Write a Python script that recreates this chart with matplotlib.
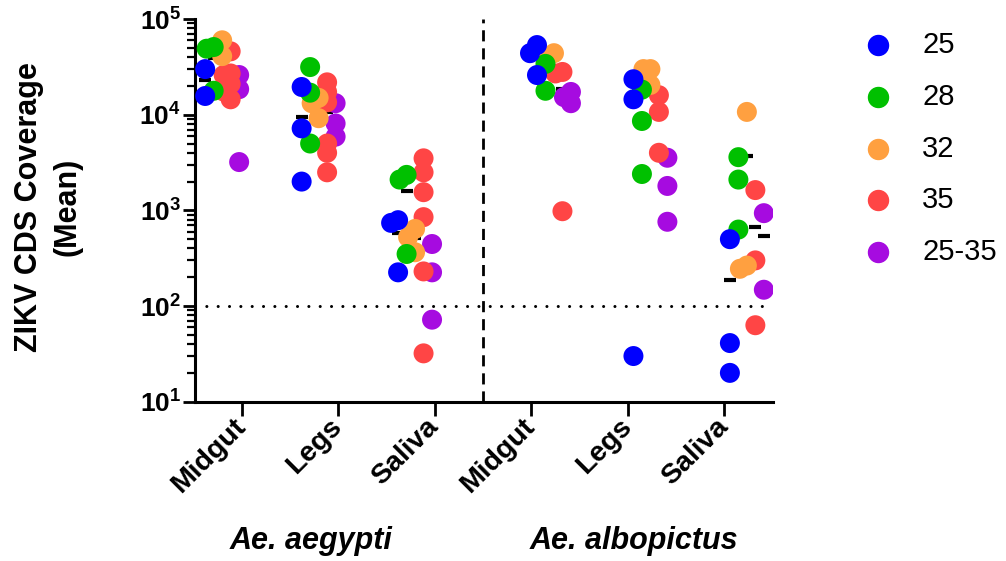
import numpy as np
import matplotlib
matplotlib.use("Agg")
import matplotlib.pyplot as plt
from matplotlib.lines import Line2D
from matplotlib.ticker import LogLocator, NullFormatter

plt.rcParams['font.family'] = ['Liberation Sans', 'DejaVu Sans']
plt.rcParams['mathtext.fontset'] = 'custom'
plt.rcParams['mathtext.rm'] = 'Liberation Sans'
plt.rcParams['mathtext.bf'] = 'Liberation Sans:bold'

temps = ['25', '28', '32', '35', '25-35']
colors = ['#0000FF', '#00C000', '#FFA040', '#FF4545', '#A60BE0']
tissues = ['Midgut', 'Legs', 'Saliva']
species = ['Ae. aegypti', 'Ae. albopictus']

# mean ZIKV CDS coverage per pool, by tissue and temperature
aeg_midgut = {'25': [30000, 15700],
              '28': [51000, 49000, 17800],
              '32': [60000, 41000],
              '35': [46000, 27000, 26000, 21000, 17500, 14500],
              '25-35': [26000, 18500, 3200]}
aeg_legs = {'25': [19500, 7200, 2000],
            '28': [31500, 17000, 5000],
            '32': [15000, 13200, 9200],
            '35': [21800, 17300, 13500, 5000, 4000, 2500],
            '25-35': [13200, 8100, 5900]}
aeg_saliva = {'25': [790, 740, 225],
              '28': [2350, 2100, 350],
              '32': [640, 525, 365],
              '35': [3500, 2500, 1550, 850, 230, 32],
              '25-35': [445, 225, 72]}
alb_midgut = {'25': [53500, 44000, 26000],
              '28': [34000, 17800],
              '32': [44000, 40000],
              '35': [28000, 27000, 980],
              '25-35': [17300, 15300, 13200]}
alb_legs = {'25': [23500, 14500, 30],
            '28': [18300, 8600, 2400],
            '32': [30000, 30000, 20500],
            '35': [16000, 10700, 4000],
            '25-35': [3550, 1800, 760]}
alb_saliva = {'25': [500, 41, 20],
              '28': [3600, 2100, 630],
              '32': [10700, 265, 245],
              '35': [1630, 300, 63],
              '25-35': [935, 148]}

groups = [aeg_midgut, aeg_legs, aeg_saliva, alb_midgut, alb_legs, alb_saliva]
detection_limit = 100

fig = plt.figure(figsize=(10.06, 5.61), dpi=100)
ax = fig.add_axes([0.1938, 0.284, 0.5746, 0.682])

positions = np.arange(1, 7)
shift = [-0.38] * 3 + [0.06] * 3
step = 0.088
px_x = 96.7   # pixels per category
px_y = 95.7   # pixels per decade


def dodge(vals):
    # push points sideways when they sit on top of each other
    placed = []
    offs = []
    for v in vals:
        y = np.log10(v) * px_y
        for off in [0, -7, 7, -14, 14]:
            if all(abs(y - py) >= 9 or abs(off - po) >= 6 for py, po in placed):
                break
        placed.append((y, off))
        offs.append(off / px_x)
    return np.array(offs)


for g, grp in enumerate(groups):
    for i, t in enumerate(temps):
        vals = np.array(sorted(grp[t], reverse=True), dtype=float)
        xc = positions[g] + shift[g] + i * step
        ax.scatter(xc + dodge(vals), vals, s=207, color=colors[i],
                   edgecolors='none', zorder=10 - i)
        ax.plot([xc], [vals.mean()], marker='_', ms=8, mew=3,
                color='black', zorder=2)

ax.axhline(detection_limit, ls=(0, (0.01, 3.7)), lw=2.2, color='black',
           dash_capstyle='round', zorder=1)
ax.axvline(3.5, ls=(0, (4, 2.5)), lw=2, color='black', zorder=1)

ax.set_yscale('log')
ax.set_ylim(10, 1e5)
ax.set_xlim(0.514, 6.507)
ax.set_yticks([10, 100, 1e3, 1e4, 1e5])
ax.set_yticklabels([r'$\mathbf{10^{%d}}$' % k for k in range(1, 6)], fontsize=19)
ax.yaxis.set_minor_locator(LogLocator(base=10, subs=np.arange(2, 10)))
ax.yaxis.set_minor_formatter(NullFormatter())

ax.set_xticks(positions)
ax.set_xticklabels(tissues * 2, rotation=45, ha='right', va='center',
                   rotation_mode='anchor', fontsize=20.5, fontweight='bold')

for s in ['top', 'right']:
    ax.spines[s].set_visible(False)
for s in ['left', 'bottom']:
    ax.spines[s].set_linewidth(2.2)
ax.tick_params(axis='y', which='major', length=9, width=2, pad=1)
ax.tick_params(axis='y', which='minor', length=5.5, width=1.6)
ax.tick_params(axis='x', length=10, width=2, pad=5)

fig.text(0.048, 0.631, 'ZIKV CDS Coverage\n(Mean)', rotation=90,
         ha='center', va='center', multialignment='center',
         fontsize=22, fontweight='bold', linespacing=1.4)

fig.text(311 / 1006, 1 - 541 / 561, species[0], ha='center', va='center',
         fontsize=22, fontweight='bold', style='italic')
fig.text(634 / 1006, 1 - 541 / 561, species[1], ha='center', va='center',
         fontsize=22, fontweight='bold', style='italic')

# legend drawn by hand, one row per temperature
for i, t in enumerate(temps):
    yf = 1 - (45 + 51.8 * i) / 561
    fig.add_artist(Line2D([878 / 1006], [yf], transform=fig.transFigure,
                          marker='o', ms=14.4, color=colors[i], ls='none'))
    fig.text(922 / 1006, yf, t, ha='left', va='center', fontsize=21)

fig.savefig('out.png', dpi=100)
